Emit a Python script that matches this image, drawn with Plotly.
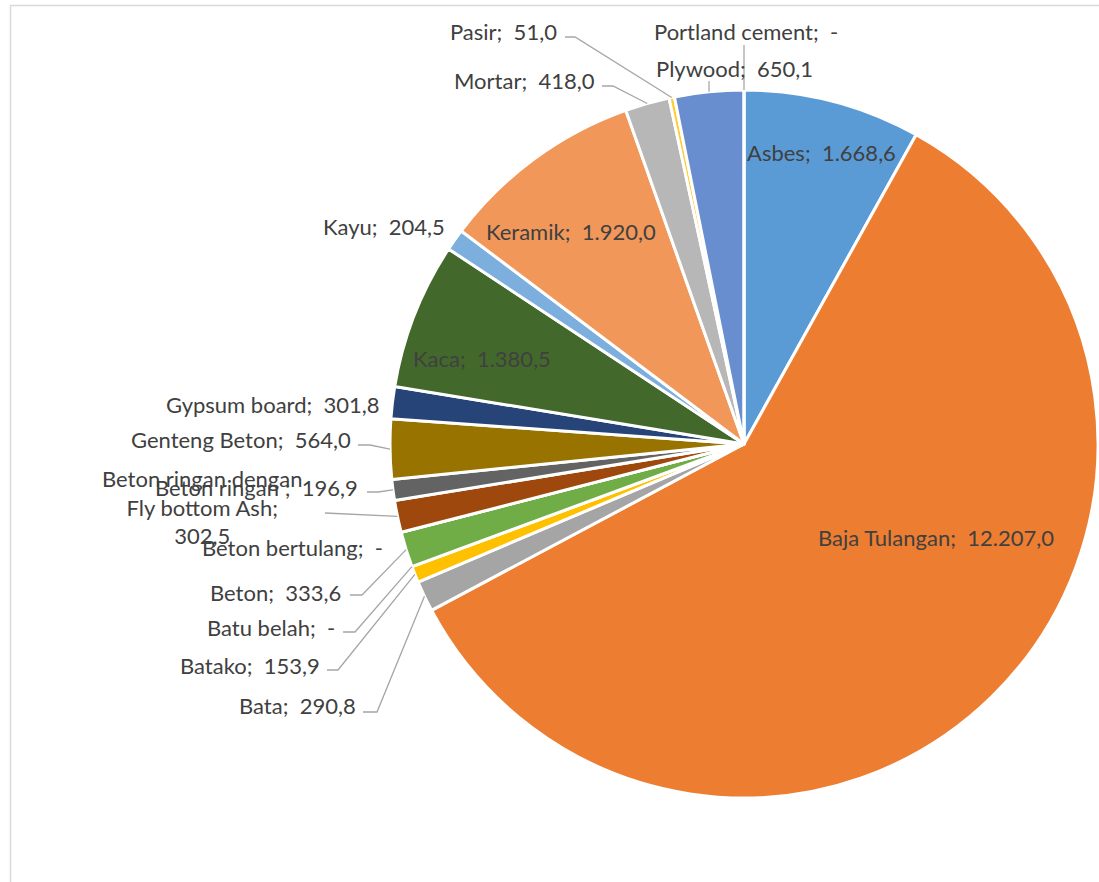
import math
import plotly.graph_objects as go

# ---------------- data ----------------
categories = ["Asbes", "Baja Tulangan", "Bata", "Batako", "Batu belah", "Beton",
              "Beton bertulang", "Beton ringan dengan Fly bottom Ash", "Beton ringan ",
              "Genteng Beton", "Gypsum board", "Kaca", "Kayu", "Keramik", "Mortar",
              "Pasir", "Plywood", "Portland cement"]
values = [1668.6, 12207.0, 290.8, 153.9, 0.0, 333.6, 0.0, 302.5, 196.9,
          564.0, 301.8, 1380.5, 204.5, 1920.0, 418.0, 51.0, 650.1, 0.0]
colors = ["#5B9BD5", "#ED7D31", "#A5A5A5", "#FFC000", "#4472C4", "#70AD47",
          "#255E91", "#9E480E", "#636363", "#997300", "#264478", "#43682B",
          "#7CAFDD", "#F1975A", "#B7B7B7", "#FFCD33", "#698ED0", "#8CC168"]

# ---------------- layout constants ----------------
W, H = 1099, 882
CX, CY, R = 744, 444, 354
FONT = "Lato"
FS = 22
TXT = "#404040"
LEAD = "#A6A6A6"


def fmt(v):
    if v == 0:
        return "-"
    s = f"{v:,.1f}"
    return s.replace(",", "X").replace(".", ",").replace("X", ".")


def px(x):
    return x / W


def py(y):
    return 1 - y / H


# label placement: (anchor, x, y, leader-start points or None)
label_layout = {
    "Asbes": ("center", 821, 152, None),
    "Baja Tulangan": ("center", 936, 537, None),
    "Keramik": ("center", 571, 232, None),
    "Kaca": ("center", 482, 358, None),
    "Kayu": ("right", 447, 226, None),
    "Gypsum board": ("right", 382, 405, None),
    "Genteng Beton": ("right", 353, 439, [(358, 445), (370, 445)]),
    "Beton ringan ": ("right", 360, 487, [(367, 492), (378, 492)]),
    "Beton ringan dengan Fly bottom Ash": ("center", 202, 507, [(325, 513)]),
    "Beton bertulang": ("right", 385, 547, None),
    "Beton": ("right", 343, 592, [(350, 595), (362, 595)]),
    "Batu belah": ("right", 337, 627, [(343, 632), (355, 632)]),
    "Batako": ("right", 322, 665, [(327, 670), (338, 670)]),
    "Bata": ("right", 358, 705, [(363, 712), (377, 712)]),
    "Mortar": ("right", 597, 80, [(602, 86), (613, 86)]),
    "Pasir": ("right", 559, 32, [(565, 37), (575, 37)]),
    "Plywood": ("center", 734, 68, [(709, 81)]),
    "Portland cement": ("center", 746, 31, [(744, 45)]),
}

total = sum(values)

fig = go.Figure()
fig.add_trace(go.Pie(
    labels=categories,
    values=values,
    sort=False,
    direction="clockwise",
    rotation=0,
    marker=dict(colors=colors, line=dict(color="white", width=3)),
    textinfo="none",
    hoverinfo="label+value",
    showlegend=False,
    domain=dict(x=[(CX - R) / W, (CX + R) / W], y=[(H - CY - R) / H, (H - CY + R) / H]),
))

annotations = []
shapes = []
cum = 0.0
for cat, val in zip(categories, values):
    mid = (cum + val / 2) / total * 2 * math.pi
    cum += val
    ex = CX + R * math.sin(mid)
    ey = CY - R * math.cos(mid)
    anchor, lx, ly, lead = label_layout[cat]
    if cat == "Beton ringan dengan Fly bottom Ash":
        text = "Beton ringan dengan<br>Fly bottom Ash;<br>" + fmt(val)
    else:
        text = f"{cat};  {fmt(val)}"
    annotations.append(dict(
        x=px(lx), y=py(ly), xref="paper", yref="paper",
        text=text, showarrow=False, xanchor=anchor, yanchor="middle",
        align="center", font=dict(family=FONT, size=FS, color=TXT),
    ))
    if lead:
        pts = list(lead) + [(ex, ey)]
        path = "M " + " L ".join(f"{px(a):.5f},{py(b):.5f}" for a, b in pts)
        shapes.append(dict(type="path", path=path, xref="paper", yref="paper",
                           line=dict(color=LEAD, width=1.3)))

# chart area border
shapes.append(dict(type="rect", xref="paper", yref="paper",
                   x0=px(10.5), y0=py(5.5), x1=px(W + 20), y1=py(H + 20),
                   line=dict(color="#D9D9D9", width=1.5), layer="below"))

fig.update_layout(
    width=W, height=H,
    margin=dict(l=0, r=0, t=0, b=0),
    paper_bgcolor="white", plot_bgcolor="white",
    annotations=annotations, shapes=shapes,
)

fig.write_html("out.html")
